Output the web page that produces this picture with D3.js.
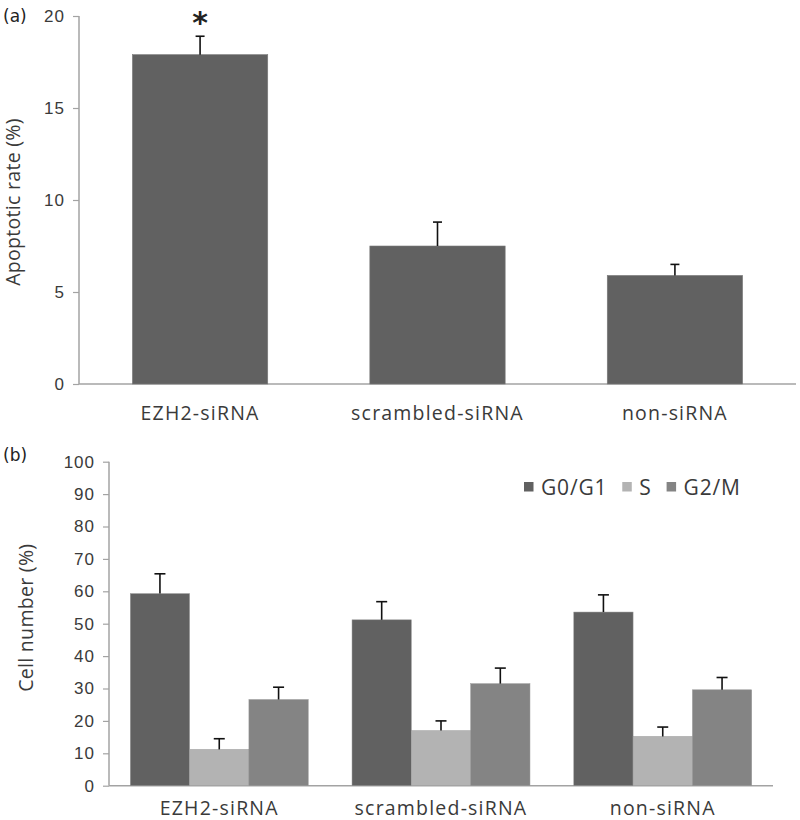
<!DOCTYPE html>
<html>
<head>
<meta charset="utf-8">
<script src="https://cdn.jsdelivr.net/npm/d3@7"></script>
<style>
  body { margin: 0; background: #fff; }
  svg { display: block; font-family: "Open Sans", "DejaVu Sans", sans-serif; }
</style>
</head>
<body>
<svg id="chart" width="800" height="820"></svg>
<script>
// ---------- data ----------
const categories = ["EZH2-siRNA", "scrambled-siRNA", "non-siRNA"];

// panel (a) apoptotic rate
const apoptosisMean = [17.9, 7.5, 5.9];
const apoptosisErr  = [1.0, 1.3, 0.6];
const apoptosisTicks = [0, 5, 10, 15, 20];

// panel (b) cell cycle
const phases = ["G0/G1", "S", "G2/M"];
const g0g1Mean = [59.3, 51.2, 53.6];
const g0g1Err  = [6.1, 5.6, 5.3];
const sMean    = [11.2, 17.0, 15.2];
const sErr     = [3.3, 3.0, 2.9];
const g2mMean  = [26.6, 31.5, 29.6];
const g2mErr   = [3.8, 4.8, 3.8];
const cycleTicks = [0, 10, 20, 30, 40, 50, 60, 70, 80, 90, 100];

// ---------- style ----------
const darkCol = "#616161", lightCol = "#b3b3b3", midCol = "#848484";
const phaseColors = [darkCol, lightCol, midCol];
const axisCol = "#a3a3a3";
const textCol = "#3a3a3a";

const svg = d3.select("#chart");

function styleAxis(g) {
  g.select(".domain").attr("stroke", axisCol).attr("stroke-width", 1.5);
  g.selectAll(".tick line").attr("stroke", axisCol).attr("stroke-width", 1.2);
  g.selectAll(".tick text").attr("fill", textCol)
    .style("font-size", "17px").style("letter-spacing", "1px");
}

// ================= panel (a) =================
const aLeft = 79, aRight = 796, aTop = 16, aBottom = 384;
const yA = d3.scaleLinear().domain([0, 20]).range([aBottom, aTop]);
const xA = d3.scaleBand().domain(categories).range([aLeft, aRight])
  .paddingInner(0.43).paddingOuter(0.225);

const gAy = svg.append("g").attr("transform", `translate(${aLeft},0)`)
  .call(d3.axisLeft(yA).tickValues(apoptosisTicks).tickSize(6).tickPadding(8).tickSizeOuter(0));
styleAxis(gAy);
gAy.select(".domain").attr("d", `M0,${aTop}V${aBottom}`);

// bottom baseline
svg.append("line").attr("x1", aLeft).attr("x2", aRight)
  .attr("y1", aBottom).attr("y2", aBottom)
  .attr("stroke", axisCol).attr("stroke-width", 1.5);

const aData = categories.map((c, i) => ({c, v: apoptosisMean[i], e: apoptosisErr[i]}));
svg.append("g").selectAll("rect").data(aData).join("rect")
  .attr("x", d => xA(d.c)).attr("width", xA.bandwidth())
  .attr("y", d => yA(d.v)).attr("height", d => yA(0) - yA(d.v))
  .attr("fill", darkCol).attr("stroke", "#7a7a7a").attr("stroke-width", 0.6);

const aErr = svg.append("g").attr("stroke", "#111").attr("stroke-width", 1.6);
aData.forEach(d => {
  const cx = xA(d.c) + xA.bandwidth() / 2;
  aErr.append("line").attr("x1", cx).attr("x2", cx).attr("y1", yA(d.v)).attr("y2", yA(d.v + d.e));
  aErr.append("line").attr("x1", cx - 4.5).attr("x2", cx + 4.5).attr("y1", yA(d.v + d.e)).attr("y2", yA(d.v + d.e));
});

// asterisk
svg.append("text").attr("x", xA(categories[0]) + xA.bandwidth() / 2).attr("y", 33)
  .attr("text-anchor", "middle").attr("fill", "#222")
  .style("font-family", "'DejaVu Sans', sans-serif").style("font-weight", "bold").style("font-size", "30px")
  .text("*");

// category labels
svg.append("g").selectAll("text").data(categories).join("text")
  .attr("x", d => xA(d) + xA.bandwidth() / 2).attr("y", 420)
  .attr("text-anchor", "middle").attr("fill", textCol)
  .style("font-size", "19.5px").style("letter-spacing", "1.2px")
  .text(d => d);

// axis title
svg.append("text").attr("transform", `translate(20,${(aTop + aBottom) / 2 + 2}) rotate(-90)`)
  .attr("text-anchor", "middle").attr("fill", textCol)
  .style("font-size", "19.5px").style("letter-spacing", "0.3px")
  .text("Apoptotic rate (%)");

svg.append("text").attr("x", 3).attr("y", 22).attr("fill", "#222")
  .style("font-family", "'DejaVu Sans', sans-serif").style("font-size", "17px").text("(a)");

// ================= panel (b) =================
const bLeft = 109, bRight = 773, bTop = 461.7, bBottom = 785.7;
const yB = d3.scaleLinear().domain([0, 100]).range([bBottom, bTop]);
const x0 = d3.scaleBand().domain(categories).range([bLeft, bRight])
  .paddingInner(0.1975).paddingOuter(0.096);
const x1 = d3.scaleBand().domain(phases).range([0, x0.bandwidth()]).padding(0);

const gBy = svg.append("g").attr("transform", `translate(${bLeft},0)`)
  .call(d3.axisLeft(yB).tickValues(cycleTicks).tickSize(6).tickPadding(8).tickSizeOuter(0));
styleAxis(gBy);
gBy.select(".domain").attr("d", `M0,${bTop}V${bBottom}`);

svg.append("line").attr("x1", bLeft).attr("x2", bRight)
  .attr("y1", bBottom).attr("y2", bBottom)
  .attr("stroke", axisCol).attr("stroke-width", 1.5);

const means = [g0g1Mean, sMean, g2mMean];
const errs = [g0g1Err, sErr, g2mErr];
const bData = [];
categories.forEach((c, i) => phases.forEach((p, j) =>
  bData.push({c, p, j, v: means[j][i], e: errs[j][i]})));

svg.append("g").selectAll("rect").data(bData).join("rect")
  .attr("x", d => x0(d.c) + x1(d.p)).attr("width", x1.bandwidth())
  .attr("y", d => yB(d.v)).attr("height", d => yB(0) - yB(d.v))
  .attr("fill", d => phaseColors[d.j]).attr("stroke", "#9a9a9a").attr("stroke-width", 0.5);

const bErr = svg.append("g").attr("stroke", "#111").attr("stroke-width", 1.6);
bData.forEach(d => {
  const cx = x0(d.c) + x1(d.p) + x1.bandwidth() / 2;
  bErr.append("line").attr("x1", cx).attr("x2", cx).attr("y1", yB(d.v)).attr("y2", yB(d.v + d.e));
  bErr.append("line").attr("x1", cx - 5.5).attr("x2", cx + 5.5).attr("y1", yB(d.v + d.e)).attr("y2", yB(d.v + d.e));
});

svg.append("g").selectAll("text").data(categories).join("text")
  .attr("x", d => x0(d) + x0.bandwidth() / 2).attr("y", 815)
  .attr("text-anchor", "middle").attr("fill", textCol)
  .style("font-size", "19.5px").style("letter-spacing", "1.2px")
  .text(d => d);

svg.append("text").attr("transform", `translate(33,${(bTop + bBottom) / 2 - 6}) rotate(-90)`)
  .attr("text-anchor", "middle").attr("fill", textCol)
  .style("font-size", "19.5px").style("letter-spacing", "0.3px")
  .text("Cell number (%)");

svg.append("text").attr("x", 3).attr("y", 461).attr("fill", "#222")
  .style("font-family", "'DejaVu Sans', sans-serif").style("font-size", "17px").text("(b)");

// legend
const legend = svg.append("g").attr("transform", "translate(524,487)");
let lx = 0;
phases.forEach((p, j) => {
  const g = legend.append("g").attr("transform", `translate(${lx},0)`);
  g.append("rect").attr("x", 0).attr("y", -5).attr("width", 9.5).attr("height", 9.5).attr("fill", phaseColors[j]);
  const t = g.append("text").attr("x", 17).attr("y", 0).attr("dy", "0.36em")
    .attr("fill", textCol).style("font-size", "21px").style("letter-spacing", "0.8px").text(p);
  lx += 17 + t.node().getComputedTextLength() + 15;
});
</script>
</body>
</html>
